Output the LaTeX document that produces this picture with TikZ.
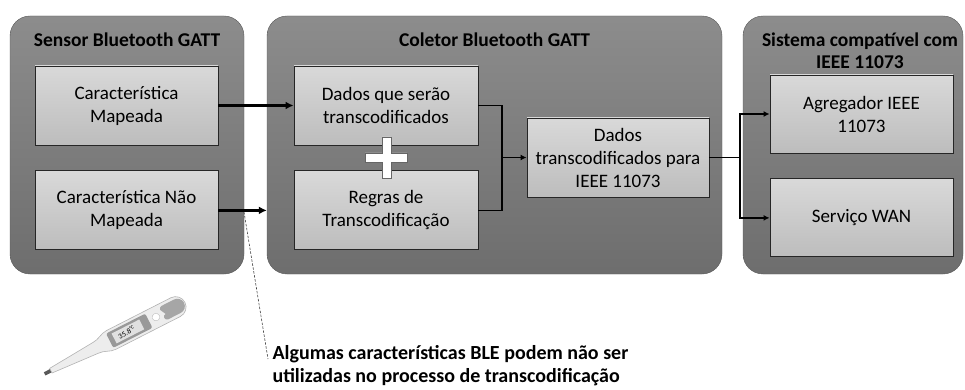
\documentclass[tikz,border=0pt]{standalone}
\usepackage{fontspec}
\setmainfont{Carlito}
\usetikzlibrary{arrows.meta,positioning}

\begin{document}
\begin{tikzpicture}[x=1pt,y=-1pt,
  node distance = 25pt and 20pt,
  panel/.style={draw=black!65, rounded corners=20pt, top color=black!45, bottom color=black!57,
                minimum width=#1, minimum height=258pt},
  caixa/.style={draw=black!85, line width=0.9pt, top color=black!15, bottom color=black!26,
                minimum width=183pt, minimum height=79pt, align=center, inner sep=1pt,
                font=\fontsize{19}{23}\selectfont},
  titulo/.style={font=\bfseries\fontsize{19.5}{22}\selectfont, align=center},
  seta/.style={-{Latex[length=8pt,width=8pt]}, line width=2.2pt},
  liga/.style={line width=1.6pt},
  setinha/.style={liga, -{Latex[length=6pt,width=6pt]}}
                        ]
\useasboundingbox (0,0) rectangle (965,390);

% the three blocks
\node (sensor)  [panel=234pt] at (127,145)   {};
\node (coletor) [panel=455pt] at (494.5,145) {};
\node (sistema) [panel=220pt] at (853,145)   {};

\node [titulo] at (127,40)   {Sensor Bluetooth GATT};
\node [titulo] at (494.5,40) {Coletor Bluetooth GATT};
\node [titulo] at (860,51)   {Sistema compatível com\\IEEE 11073};

% sensor
\node (mapeada) [caixa] at (126.5,105.5) {Característica\\Mapeada};
\node (naomap)  [caixa, below=of mapeada] {Característica Não\\Mapeada};

% coletor
\node (dados)  [caixa, minimum width=184pt] at (386,105.5) {Dados que serão\\transcodificados};
\node (regras) [caixa, minimum width=184pt, below=of dados] {Regras de\\Transcodificação};
\node (final)  [caixa, minimum width=182pt] at (618,157.5) {Dados\\transcodificados para\\IEEE 11073};

% sistema
\node (agreg) [caixa, minimum height=78pt] at (861.5,114) {Agregador IEEE\\11073};
\node (wan)   [caixa, minimum height=78pt, below=of agreg] {Serviço WAN};

% plus sign
\filldraw[fill=white, draw=black!60, line width=0.8pt]
  (382,137) -- (391,137) -- (391,153) -- (407,153) -- (407,162) -- (391,162)
  -- (391,178) -- (382,178) -- (382,162) -- (365,162) -- (365,153) -- (382,153) -- cycle;

%
\coordinate (j1) at (502,157.5);
\coordinate (j2) at (740,157.5);

\draw[seta] (mapeada.east) -- (dados.west);
\draw[seta] (naomap.east) -- (naomap.east -| coletor.west);

\draw[liga] (dados.east) -| (j1);
\draw[liga] (regras.east) -| (j1);
\draw[setinha] (j1) -- (final.west);

\draw[liga] (final.east) -- (j2);
\draw[setinha] (j2) |- (agreg.west);
\draw[setinha] (j2) |- (wan.west);

% note
\node (nota) [anchor=north west, align=left, font=\bfseries\fontsize{20}{23}\selectfont]
  at (269,342) {Algumas características BLE podem não ser\\utilizadas no processo de transcodificação};
\coordinate (obs) at (244,212);
\draw[black!75, dash pattern=on 2.5pt off 1.5pt, line width=0.6pt]
  (obs) -- ([xshift=-1pt,yshift=-17pt]nota.north west);

% thermometer
\begin{scope}[shift={(115,338)}, rotate=27]
  \fill[black!65] (-79,-1.8) rectangle (-71,1.8);
  \filldraw[fill=black!7, draw=black!30, line width=0.6pt]
    (-72,-2.6) -- (-22,-6) to[out=0,in=180] (-4,-10.5) -- (68,-10.5)
    arc[start angle=-90, end angle=90, radius=10.5]
    -- (-4,10.5) to[out=180,in=0] (-22,6) -- (-72,2.6) -- cycle;
  \fill[black!35] (56,-7.5) -- (70,-7.5) arc[start angle=-90, end angle=90, radius=7.5]
    -- (56,7.5) arc[start angle=90, end angle=270, radius=3] -- (53,-4.5) arc[start angle=180, end angle=270, radius=3] -- cycle;
  \filldraw[fill=white, draw=black!25] (46,0) circle (3.8);
  \fill[black!40, rounded corners=2pt] (-6,-8) rectangle (38,8);
  \fill[black!12] (-1,-5.5) rectangle (30,5.5);
  \node[transform shape, font=\fontsize{7.5}{7.5}\selectfont, inner sep=0pt] at (13,0)
    {35.8\textsuperscript{°C}};
\end{scope}
\end{tikzpicture}
\end{document}
